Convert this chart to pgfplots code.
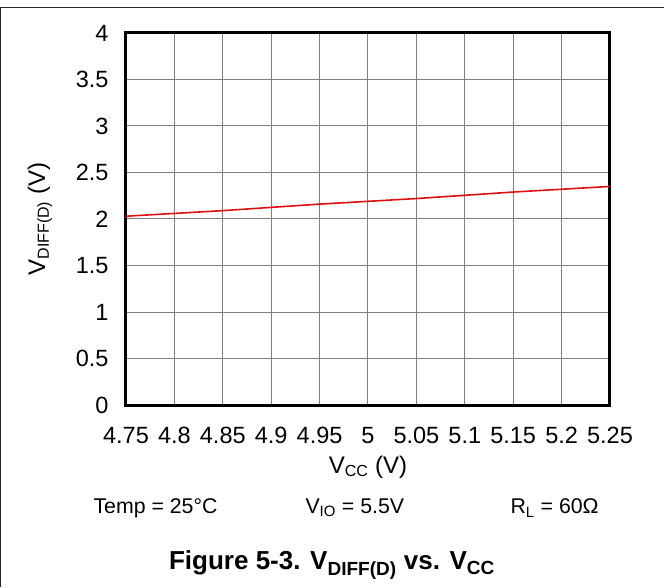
\documentclass[border=0pt]{standalone}
\usepackage{fontspec}
\setmainfont{Liberation Sans}
\usepackage{pgfplots}
\pgfplotsset{compat=1.18}
\begin{document}
\begin{tikzpicture}[x=1pt,y=1pt]
\useasboundingbox (0,0) rectangle (664,587);
\draw[line width=1pt, black!85] (0,579) -- (664,579);
\draw[line width=1pt, black!85] (0.5,579) -- (0.5,0);
\begin{axis}[
  at={(126pt,182pt)}, anchor=south west,
  scale only axis, width=484pt, height=372pt,
  xmin=4.75, xmax=5.25, ymin=0, ymax=4,
  xtick={4.75,4.8,4.85,4.9,4.95,5,5.05,5.1,5.15,5.2,5.25},
  xticklabels={4.75,4.8,4.85,4.9,4.95,5,5.05,5.1,5.15,5.2,5.25},
  ytick={0,0.5,1,1.5,2,2.5,3,3.5,4},
  yticklabels={0,0.5,1,1.5,2,2.5,3,3.5,4},
  major tick length=0pt,
  grid=major,
  major grid style={line width=1pt, color=black!50},
  axis line style={line width=3pt, black},
  ticklabel style={font=\fontsize{23.5}{27}\selectfont},
  /pgf/number format/assume math mode=true,
  xticklabel style={yshift=-19pt},
  yticklabel style={xshift=-14pt},
  xlabel={V\textsubscript{\fontsize{16}{17}\selectfont CC} (V)},
  xlabel style={font=\fontsize{24}{27}\selectfont, at={(axis description cs:0.5,0)}, anchor=center, yshift=-62pt},
  ylabel={V\textsubscript{\fontsize{16}{17}\selectfont DIFF(D)} (V)},
  ylabel style={font=\fontsize{24}{27}\selectfont, at={(axis description cs:0,0.5)}, anchor=center, yshift=86pt},
  clip=false,
]
\addplot[color={rgb,255:red,224;green,16;blue,16}, line width=1.6pt] coordinates {
 (4.75,2.03) (4.85,2.09) (4.95,2.16) (5.05,2.22) (5.15,2.29) (5.25,2.35)
};
\end{axis}
\node[font=\fontsize{21.3}{24}\selectfont, anchor=west] at (90,79) {Temp = 25°C};
\node[font=\fontsize{21.3}{24}\selectfont, anchor=west] at (302,79) {V\textsubscript{\fontsize{15}{16}\selectfont IO} = 5.5V};
\node[font=\fontsize{21.3}{24}\selectfont, anchor=west] at (507,79) {R\textsubscript{\fontsize{15}{16}\selectfont L} = 60Ω};
\node[font=\bfseries\fontsize{26}{29}\selectfont] at (332,22) {Figure 5-3. V\textsubscript{\fontsize{19}{20}\selectfont DIFF(D)} vs. V\textsubscript{\fontsize{19}{20}\selectfont CC}};
\end{tikzpicture}
\end{document}
